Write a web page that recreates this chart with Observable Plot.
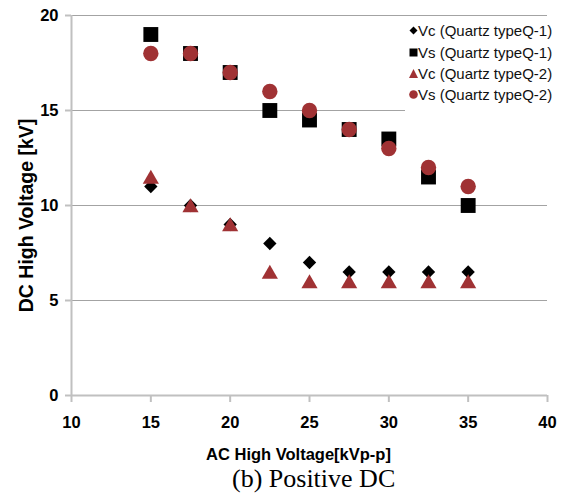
<!DOCTYPE html>
<html>
<head>
<meta charset="utf-8">
<script src="https://cdn.jsdelivr.net/npm/d3@7"></script>
<script src="https://cdn.jsdelivr.net/npm/@observablehq/plot@0.6"></script>
<style>
  body { margin: 0; background: #fff; }
  #wrap { position: relative; width: 565px; height: 504px; overflow: hidden; background: #fff; }
  #chart { position: absolute; left: 0; top: 0; }
  #legend { position: absolute; left: 405px; top: 20px; width: 160px; height: 96px; background: #fff;
            font: 15px "Liberation Sans", Arial, sans-serif; color: #111; }
  .row { position: absolute; left: 0; height: 20px; display: flex; align-items: center; white-space: nowrap; }
  .row svg { margin-left: 4px; margin-right: 0px; }
  #caption { position: absolute; left: 0; top: 466px; width: 565px; text-align: left; padding-left: 232px; box-sizing: border-box;
             font: 26px/25px "Liberation Serif", "Times New Roman", serif; color: #000; white-space: nowrap; }
</style>
</head>
<body>
<div id="wrap">
  <div id="chart"></div>
  <div id="legend"></div>
  <div id="caption"></div>
</div>
<script>
// ---- data ----
const acVoltage = [15, 17.5, 20, 22.5, 25, 27.5, 30, 32.5, 35];
const vcQ1 = [11, 10, 9, 8, 7, 6.5, 6.5, 6.5, 6.5];
const vsQ1 = [19, 18, 17, 15, 14.5, 14, 13.5, 11.5, 10];
const vcQ2 = [11.5, 10, 9, 6.5, 6, 6, 6, 6, 6];
const vsQ2 = [18, 18, 17, 16, 15, 14, 13, 12, 11];
const seriesNames = ["Vc (Quartz typeQ-1)", "Vs (Quartz typeQ-1)", "Vc (Quartz typeQ-2)", "Vs (Quartz typeQ-2)"];
const seriesKeys = ["vcQ1", "vsQ1", "vcQ2", "vsQ2"];
const xTicks = [10, 15, 20, 25, 30, 35, 40];
const yTicks = [0, 5, 10, 15, 20];
const xLabel = "AC High Voltage[kVp-p]";
const yLabel = "DC High Voltage [kV]";
const captionText = "(b) Positive DC";

// ---- styles ----
const BLACK = "#000000";
const RED = "#a03234";
const symbols = ["diamond2", "square", "triangle", "circle"];
const colors = [BLACK, BLACK, RED, RED];
const radii = [6, 8.4, 6, 7.7];
const dys = [0, 0, 2, 0];

const table = acVoltage.map((ac, i) => ({ac, vcQ1: vcQ1[i], vsQ1: vsQ1[i], vcQ2: vcQ2[i], vsQ2: vsQ2[i]}));

const font = "Liberation Sans, Arial, sans-serif";
const plot = Plot.plot({
  width: 565,
  height: 470,
  marginLeft: 71,
  marginRight: 18,
  marginTop: 15,
  marginBottom: 75,
  x: {domain: [xTicks[0], xTicks[xTicks.length - 1]]},
  y: {domain: [yTicks[0], yTicks[yTicks.length - 1]]},
  style: {fontFamily: font, background: "transparent", overflow: "visible"},
  marks: [
    Plot.gridY(yTicks.filter(v => v > yTicks[0]), {stroke: "#a3a3a3", strokeOpacity: 1, strokeWidth: 1.2}),
    Plot.ruleX([xTicks[0]], {stroke: "#c0c0c0", strokeWidth: 2}),
    Plot.ruleY([yTicks[0]], {stroke: "#c0c0c0", strokeWidth: 2}),
    Plot.axisX({ticks: xTicks, tickSize: 7, tickPadding: 14, stroke: "#c0c0c0", strokeWidth: 2,
                fill: "#000", fontSize: 16.5, fontWeight: "bold", label: null, tickFormat: d => d}),
    Plot.axisY({ticks: yTicks, tickSize: 6, tickPadding: 7, stroke: "#c0c0c0", strokeWidth: 2,
                fill: "#000", fontSize: 16.5, fontWeight: "bold", label: null, tickFormat: d => d}),
    ...seriesKeys.map((k, s) => Plot.dot(table, {
      x: "ac", y: k, symbol: () => symbols[s], fill: colors[s], stroke: "none", r: radii[s], dy: dys[s]
    })),
    Plot.text([yLabel], {text: d => d, frameAnchor: "left", textAnchor: "middle", lineAnchor: "middle",
                         rotate: -90, dx: -45, dy: 10,
                         fontSize: 19.5, fontWeight: "bold", fill: "#000"}),
    Plot.text([xLabel], {text: d => d, frameAnchor: "bottom", textAnchor: "middle", lineAnchor: "middle",
                         dx: -11, dy: 59,
                         fontSize: 16.5, fontWeight: "bold", fill: "#000"})
  ]
});
document.getElementById("chart").appendChild(plot);

// ---- legend ----
const legend = document.getElementById("legend");
const rowCenters = [10, 32, 53, 74];
const legendShapes = [
  '<polygon points="4.5,0.5 8.5,4.5 4.5,8.5 0.5,4.5" fill="' + BLACK + '"/>',
  '<rect x="0.5" y="0.5" width="8" height="8" fill="' + BLACK + '"/>',
  '<polygon points="4.5,0 9,9 0,9" fill="' + RED + '"/>',
  '<circle cx="4.5" cy="4.5" r="4.3" fill="' + RED + '"/>'
];
seriesNames.forEach((name, i) => {
  const row = document.createElement("div");
  row.className = "row";
  row.style.top = (rowCenters[i] - 10) + "px";
  row.innerHTML = '<svg width="9" height="9" viewBox="0 0 9 9">' + legendShapes[i] + '</svg><span>' + name + '</span>';
  legend.appendChild(row);
});
document.getElementById("caption").textContent = captionText;
</script>
</body>
</html>
